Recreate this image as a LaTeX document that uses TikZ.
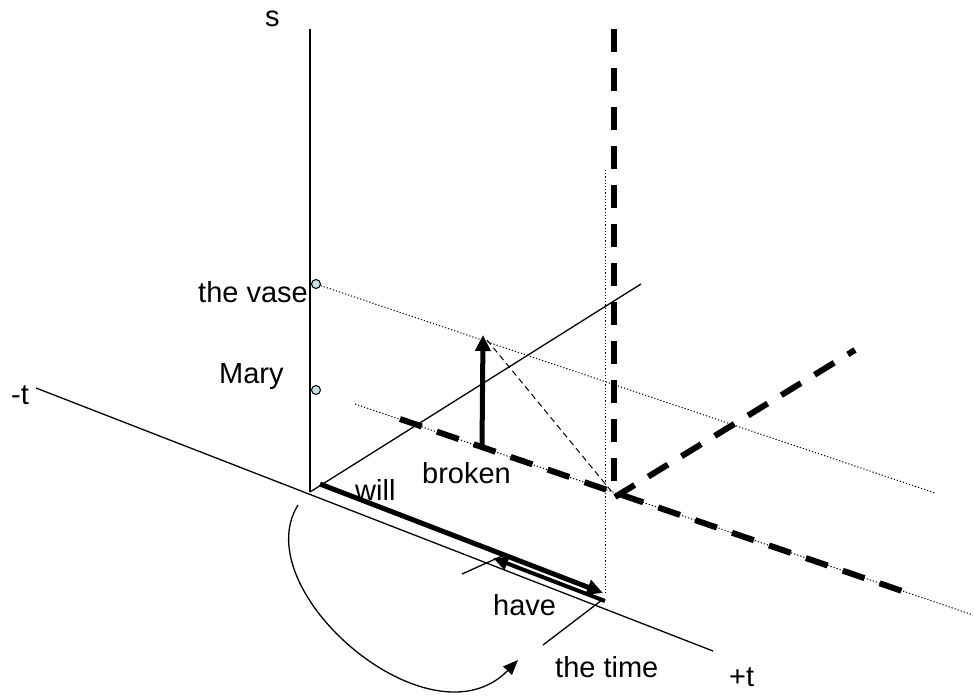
\documentclass[tikz,border=0pt]{standalone}
\usepackage{fontspec}
\setmainfont{Liberation Sans}
\usetikzlibrary{arrows.meta}
\definecolor{vaseblue}{RGB}{190,228,232}
\begin{document}
\begin{tikzpicture}[x=1pt,y=-1pt,
  lbl/.style={inner sep=0pt, anchor=base west, font=\fontsize{29}{32}\selectfont},
  thinline/.style={line width=1.3pt},
  dotline/.style={line width=1pt, dash pattern=on 1.2pt off 2pt},
  bigdash/.style={line width=6pt, dash pattern=on 23pt off 16pt},
  smalldash/.style={line width=1pt, dash pattern=on 6pt off 4pt},
  thickarr/.style={line width=5pt, -{Triangle[length=16pt,width=15pt]}},
  havearr/.style={line width=4pt, -{Triangle[length=15pt,width=13pt]}},
  curvearr/.style={line width=1.3pt, -{Triangle[length=15pt,width=12pt]}},
  marker/.style={circle, draw, line width=1pt, fill=vaseblue, minimum size=9pt, inner sep=0pt}]
\useasboundingbox (0,0) rectangle (974,700);

% coordinates
\coordinate (sTop) at (310,29);
\coordinate (O) at (310,492);
\coordinate (tMinus) at (36,388);
\coordinate (tPlus) at (713,651);
\coordinate (diagEnd) at (641,284);
\coordinate (vdotTop) at (605,170);
\coordinate (vdotBot) at (605,593);
\coordinate (X) at (612,492);
\coordinate (upDotEnd) at (935,493);
\coordinate (lowDotStart) at (355,404);
\coordinate (lowDotEnd) at (973,615);
\coordinate (lowDashStart) at (400,419);
\coordinate (lowDashEnd) at (905,592);
\coordinate (vDashTop) at (614,29);
\coordinate (vDashBot) at (614,495);
\coordinate (dDashStart) at (615,497);
\coordinate (dDashEnd) at (855,350);
\coordinate (brokenBase) at (482,447);
\coordinate (brokenTip) at (483,335);
\coordinate (brokenHead) at (487,340);
\coordinate (willStart) at (320,484);
\coordinate (willEnd) at (603,593);
\coordinate (haveStart) at (605,601);
\coordinate (haveEnd) at (493,558);
\coordinate (tickAa) at (462,574);
\coordinate (tickAb) at (502,556);
\coordinate (tickBa) at (543,645);
\coordinate (tickBb) at (602,600);
\coordinate (curveStart) at (298,505);
\coordinate (curveEnd) at (518,660);

% markers
\node[marker] (vase) at (316,284) {};
\node[marker] (mary) at (316,390) {};

% axes
\draw[thinline] (sTop) -- (O);
\draw[thinline] (tMinus) -- (tPlus);
\draw[thinline] (O) -- (diagEnd);

% dotted lines
\draw[dotline] (vdotTop) -- (vdotBot);
\draw[dotline] (vase) -- (upDotEnd);
\draw[dotline] (lowDotStart) -- (lowDotEnd);

% thick dashed
\draw[bigdash] (vDashTop) -- (vDashBot);
\draw[bigdash] (lowDashStart) -- (lowDashEnd);
\draw[bigdash] (dDashStart) -- (dDashEnd);

% arrows
\draw[thickarr] (brokenBase) -- (brokenTip);
\draw[smalldash] (brokenHead) -- (X);
\draw[thickarr] (willStart) -- (willEnd);
\draw[havearr] (haveStart) -- (haveEnd);
\draw[thinline] (tickAa) -- (tickAb);
\draw[thinline] (tickBa) -- (tickBb);
\draw[curvearr] (curveStart) .. controls (245,590) and (430,750) .. (curveEnd);

% labels
\node[lbl] (sLbl) at (265,27) {s};
\node[lbl] (tmLbl) at (11,404) {-t};
\node[lbl] (tpLbl) at (729,686) {+t};
\node[lbl] (vaseLbl) at (198,303) {the vase};
\node[lbl] (maryLbl) at (219,383) {Mary};
\node[lbl] (willLbl) at (355,500) {will};
\node[lbl] (brokenLbl) at (422,483) {broken};
\node[lbl] (haveLbl) at (493,615) {have};
\node[lbl] (timeLbl) at (555,677) {the time};
\end{tikzpicture}
\end{document}
